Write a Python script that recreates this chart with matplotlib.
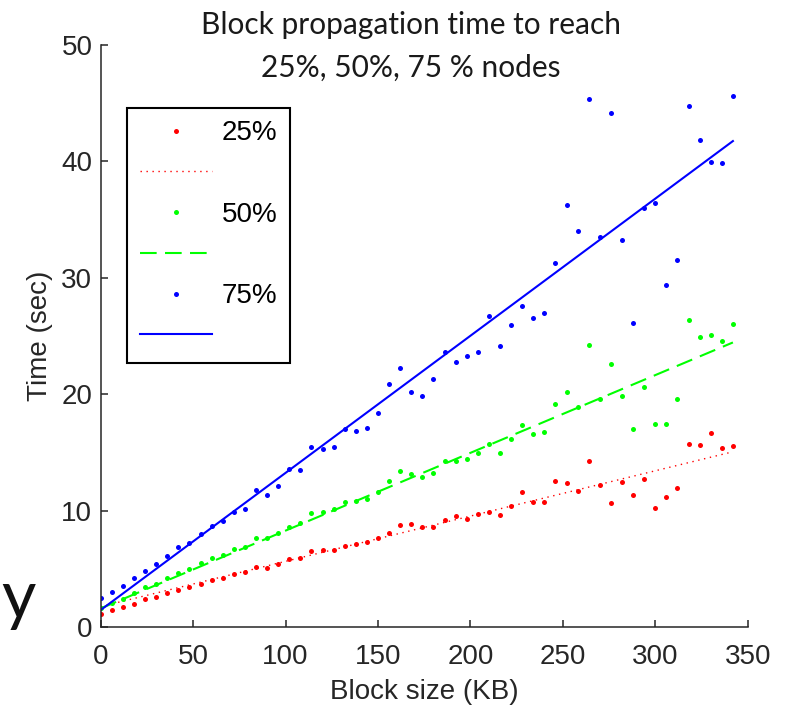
import matplotlib
matplotlib.use("Agg")
import matplotlib.pyplot as plt
from matplotlib.lines import Line2D

# ---------------- data ----------------
block_size = [0, 6, 12, 18, 24, 30, 36, 42, 48, 54, 60, 66, 72, 78, 84, 90, 96, 102,
              108, 114, 120, 126, 132, 138, 144, 150, 156, 162, 168, 174, 180, 186,
              192, 198, 204, 210, 216, 222, 228, 234, 240, 246, 252, 258, 264, 270,
              276, 282, 288, 294, 300, 306, 312, 318, 324, 330, 336, 342]

t25 = [1.09, 1.43, 1.69, 1.98, 2.38, 2.58, 2.92, 3.15, 3.44, 3.73, 4.07, 4.21, 4.56,
       4.73, 5.16, 5.10, 5.39, 5.82, 5.90, 6.56, 6.59, 6.65, 6.96, 7.11, 7.31, 7.62,
       8.11, 8.80, 8.82, 8.63, 8.60, 9.23, 9.52, 9.26, 9.74, 9.86, 9.63, 10.43, 11.64,
       10.78, 10.78, 12.58, 12.38, 11.69, 14.24, 12.21, 10.66, 12.44, 11.35, 12.75,
       10.20, 11.18, 11.98, 15.71, 15.62, 16.68, 15.42, 15.56]

t50 = [1.66, 2.03, 2.44, 2.92, 3.41, 3.73, 4.24, 4.64, 4.99, 5.50, 5.93, 6.19, 6.71,
       6.91, 7.65, 7.62, 8.05, 8.63, 8.91, 9.80, 9.89, 10.15, 10.72, 10.86, 11.00,
       11.64, 12.55, 13.38, 13.16, 12.90, 13.24, 14.22, 14.27, 14.45, 14.99, 15.71,
       14.99, 16.19, 17.34, 16.60, 16.77, 19.20, 20.21, 18.86, 24.25, 19.63, 22.61,
       19.86, 17.00, 20.66, 17.43, 17.48, 19.60, 26.37, 24.94, 25.11, 24.53, 26.00]

t75 = [2.52, 2.98, 3.50, 4.24, 4.84, 5.39, 6.10, 6.88, 7.19, 8.02, 8.68, 9.14, 9.89,
       10.15, 11.78, 11.32, 12.12, 13.56, 13.50, 15.48, 15.25, 15.48, 17.03, 16.88,
       17.08, 18.37, 20.87, 22.24, 20.20, 19.83, 21.32, 23.65, 22.73, 23.24, 23.65,
       26.71, 24.10, 25.91, 27.54, 26.57, 27.00, 31.30, 36.23, 33.99, 45.40, 33.48,
       44.20, 33.22, 26.14, 36.00, 36.46, 29.35, 31.56, 44.80, 41.85, 39.95, 39.87,
       45.60]

# fitted lines: intercept, slope
fit_intercept = [1.75, 1.60, 1.46]
fit_slope = [0.0389, 0.0668, 0.1178]
fit_range = [0, 342]

labels = ["25%", "50%", "75%"]
colors = ["#ff0000", "#00ff00", "#0000ff"]
linestyles = [(0, (1.0, 3.3)), (0, (8, 4)), "-"]
linewidths = [1.0, 1.5, 1.5]

xticks = [0, 50, 100, 150, 200, 250, 300, 350]
yticks = [0, 10, 20, 30, 40, 50]

# ---------------- figure ----------------
W, H = 791, 715
fig = plt.figure(figsize=(W / 100, H / 100), dpi=100)
left, right, bottom, top = 100.7, 747.7, 627, 45
ax = fig.add_axes([left / W, 1 - bottom / H, (right - left) / W, (bottom - top) / H])

tick_font = "Liberation Sans"
dark = "#262626"

series = [t25, t50, t75]
handles = []
for ys, c, ls, lw, fi, fs in zip(series, colors, linestyles, linewidths, fit_intercept, fit_slope):
    ax.plot(block_size, ys, linestyle="none", marker="o", markersize=3.6,
            markerfacecolor=c, markeredgecolor=c, markeredgewidth=0)
    fx = fit_range
    fy = [fi + fs * v for v in fx]
    ax.plot(fx, fy, color=c, linestyle=ls, linewidth=lw)
    handles.append(Line2D([], [], linestyle="none", marker="o", markersize=3.6,
                          markerfacecolor=c, markeredgecolor=c, markeredgewidth=0))
    handles.append(Line2D([], [], color=c, linestyle=ls, linewidth=lw))

ax.set_xlim(0, 350)
ax.set_ylim(0, 50)
ax.set_xticks(xticks)
ax.set_yticks(yticks)
for s in ["top", "right"]:
    ax.spines[s].set_visible(False)
for s in ["left", "bottom"]:
    ax.spines[s].set_color(dark)
    ax.spines[s].set_linewidth(1.1)
ax.tick_params(axis="both", direction="in", length=5, width=1.1, color=dark,
               labelcolor=dark, labelsize=20)
ax.tick_params(axis="x", pad=12)
ax.tick_params(axis="y", pad=6)
for lab in ax.get_xticklabels() + ax.get_yticklabels():
    lab.set_fontfamily(tick_font)

ax.set_xlabel("Block size (KB)", fontsize=20, family=tick_font, color=dark, labelpad=7)
ax.set_ylabel("Time (sec)", fontsize=20, family=tick_font, color=dark, labelpad=6)

leg_labels = [labels[0], "", labels[1], "", labels[2], ""]
leg = fig.legend(handles, leg_labels, loc="upper left",
                 bbox_to_anchor=(127 / W, 1 - 108 / H), bbox_transform=fig.transFigure,
                 prop={"family": tick_font, "size": 20}, frameon=True, fancybox=False,
                 framealpha=1, edgecolor="black", borderpad=0.45, labelspacing=0.53,
                 handlelength=2.6, handletextpad=0.35, borderaxespad=0)
leg.get_frame().set_linewidth(1.5)

title_font = ["Lato", "DejaVu Sans"]
fig.text(411 / W, 1 - 25 / H, "Block propagation time to reach", ha="center", va="center",
         fontsize=21.5, family=title_font, color="#1a1a1a")
fig.text(411 / W, 1 - 68 / H, "25%, 50%, 75 % nodes", ha="center", va="center",
         fontsize=21.5, family=title_font, color="#1a1a1a")

# stray glyph from slide background
fig.text(1 / W, 1 - 618 / H, "y", ha="left", va="baseline", fontsize=48,
         family=title_font, color="#111111")

fig.savefig("out.png", dpi=100)
